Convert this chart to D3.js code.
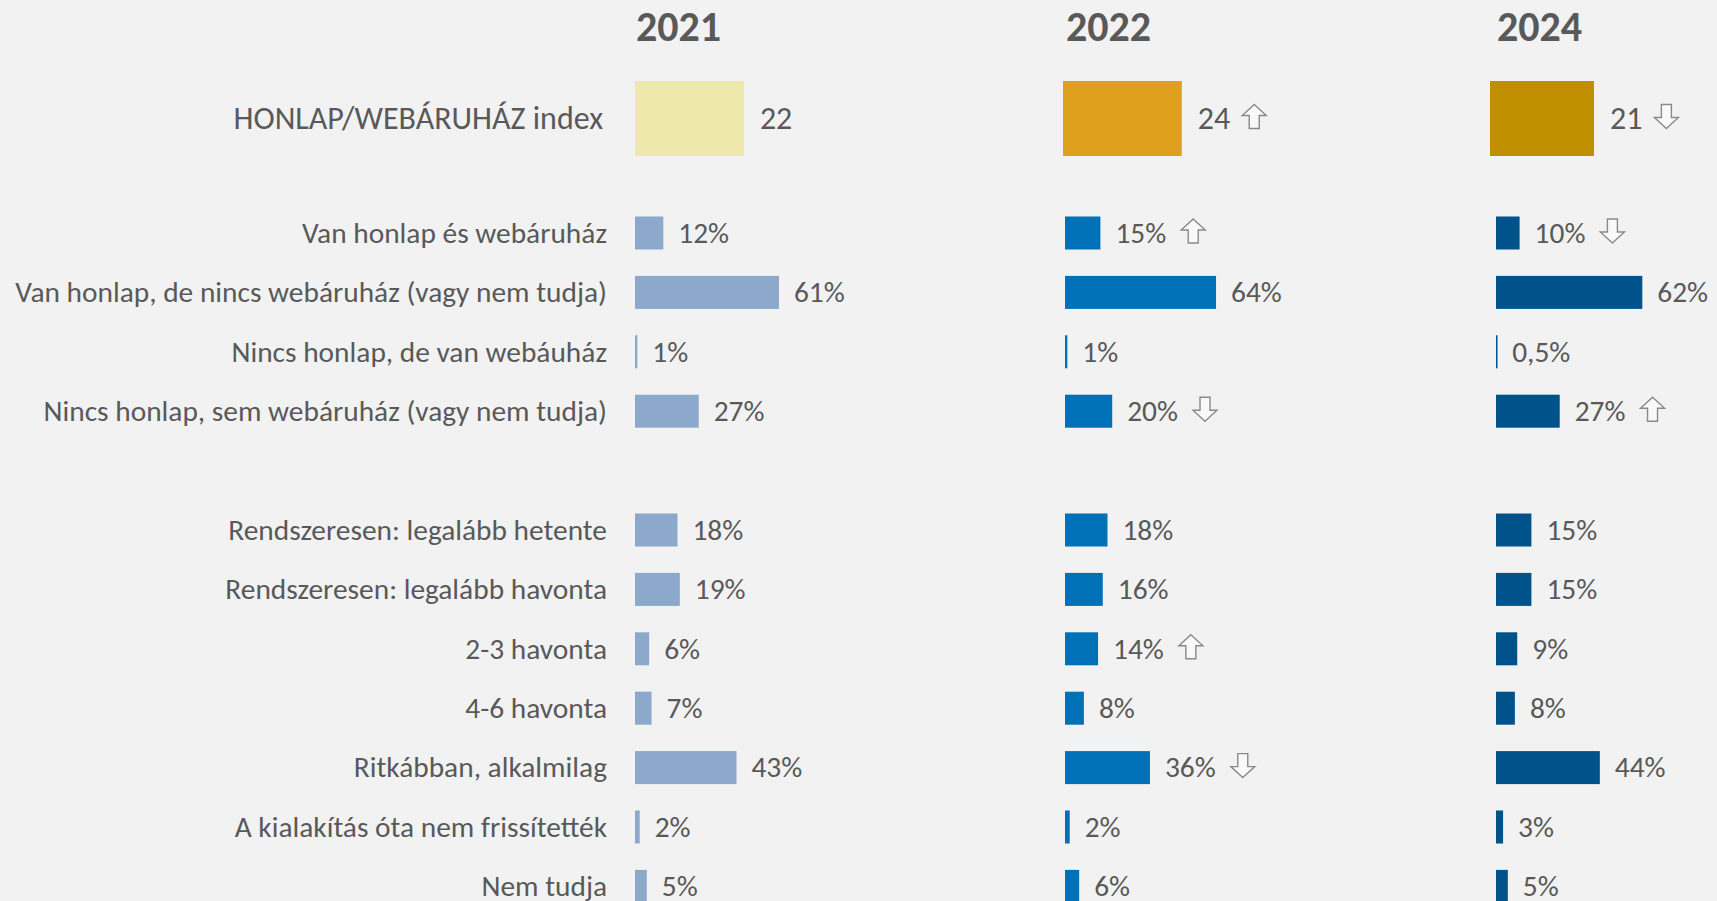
<!DOCTYPE html>
<html>
<head>
<meta charset="utf-8">
<script src="https://cdn.jsdelivr.net/npm/d3@7"></script>
<style>
  html, body { margin: 0; padding: 0; background: #f2f2f2; }
  svg { display: block; font-family: Calibri, Carlito, Lato, sans-serif; }
  text { fill: #595959; }
</style>
</head>
<body>
<svg id="vis" width="1717" height="901"></svg>
<script>
// years shown as columns
const years = ["2021", "2022", "2024"];

// index row
const indexLabel = "HONLAP/WEBÁRUHÁZ index";
const indexValues = [22, 24, 21];
const indexTrend = [null, "up", "down"];

// first block: honlap / webáruház
const siteRows = [
  "Van honlap és webáruház",
  "Van honlap, de nincs webáruház (vagy nem tudja)",
  "Nincs honlap, de van webáuház",
  "Nincs honlap, sem webáruház (vagy nem tudja)"
];
const site2021 = [12, 61, 1, 27];
const site2022 = [15, 64, 1, 20];
const site2024 = [10, 62, 0.5, 27];
const siteTrend2022 = ["up", null, null, "down"];
const siteTrend2024 = ["down", null, null, "up"];

// second block: update frequency
const freqRows = [
  "Rendszeresen: legalább hetente",
  "Rendszeresen: legalább havonta",
  "2-3 havonta",
  "4-6 havonta",
  "Ritkábban, alkalmilag",
  "A kialakítás óta nem frissítették",
  "Nem tudja"
];
const freq2021 = [18, 19, 6, 7, 43, 2, 5];
const freq2022 = [18, 16, 14, 8, 36, 2, 6];
const freq2024 = [15, 15, 9, 8, 44, 3, 5];
const freqTrend2022 = [null, null, "up", null, "down", null, null];
const freqTrend2024 = [null, null, null, null, null, null, null];

// colours
const indexColors = ["#eee8aa", "#dfa01e", "#bf8f00"];
const barColors = ["#8ca8cb", "#0071b7", "#00538a"];

const svg = d3.select("svg#vis");
const g = {
  labels: svg.append("g").attr("id", "labels"),
  cols: svg.append("g").attr("id", "cols")
};

// hungarian number format (decimal comma)
const hu = d3.formatLocale({decimal: ",", thousands: " ", grouping: [3], currency: ["", " Ft"]});
const pct = v => hu.format(Number.isInteger(v) ? "d" : ".1f")(v) + "%";

// column x positions
const colX = [635, 1065, 1496];
const colIndexX = [635, 1063, 1490];

const x = d3.scaleLinear().domain([0, 100]).range([0, 236]);
const xi = d3.scaleLinear().domain([0, 10]).range([0, 49.5]);

// rows (with an empty spacer between the two blocks)
const rowKeys = siteRows.concat(["_gap"], freqRows);
const y = d3.scalePoint().domain(rowKeys).range([233, 233 + 11 * 59.4]);
const barH = 33;
const indexY = 118.5, indexH = 75;

const labelRight = 607;
const fontSize = 29.4;
const indexFont = 32;

// row labels
g.labels.selectAll("text.row")
  .data(siteRows.concat(freqRows))
  .enter()
  .append("text")
  .attr("class", "row")
  .attr("x", labelRight)
  .attr("y", d => y(d))
  .attr("dy", "0.33em")
  .attr("text-anchor", "end")
  .style("font-size", fontSize + "px")
  .text(d => d);

g.labels.append("text")
  .attr("x", labelRight - 4)
  .attr("y", indexY)
  .attr("dy", "0.33em")
  .attr("text-anchor", "end")
  .style("font-size", indexFont + "px")
  .text(indexLabel);

const series = [
  {site: site2021, freq: freq2021, siteTrend: [null, null, null, null], freqTrend: [null, null, null, null, null, null, null]},
  {site: site2022, freq: freq2022, siteTrend: siteTrend2022, freqTrend: freqTrend2022},
  {site: site2024, freq: freq2024, siteTrend: siteTrend2024, freqTrend: freqTrend2024}
];

years.forEach(function(year, i) {
  const col = g.cols.append("g").attr("class", "col");

  col.append("text")
    .attr("x", colX[i] + 1)
    .attr("y", 41)
    .style("font-size", "42px")
    .style("font-weight", "bold")
    .text(year);

  // index bar
  col.append("rect")
    .attr("x", colIndexX[i])
    .attr("y", indexY - indexH / 2)
    .attr("width", xi(indexValues[i]))
    .attr("height", indexH)
    .attr("fill", indexColors[i]);

  const idxText = col.append("text")
    .attr("x", colIndexX[i] + xi(indexValues[i]) + 16)
    .attr("y", indexY)
    .attr("dy", "0.33em")
    .style("font-size", indexFont + "px")
    .text(indexValues[i]);
  if (indexTrend[i]) {
    drawArrow(col, +idxText.attr("x") + idxText.node().getComputedTextLength() + 12 + 12, indexY - 2, indexTrend[i]);
  }

  const rows = siteRows.map((r, j) => ({row: r, value: series[i].site[j], trend: series[i].siteTrend[j]}))
    .concat(freqRows.map((r, j) => ({row: r, value: series[i].freq[j], trend: series[i].freqTrend[j]})));

  col.selectAll("rect.bar")
    .data(rows)
    .enter()
    .append("rect")
    .attr("class", "bar")
    .attr("x", colX[i])
    .attr("y", d => y(d.row) - barH / 2)
    .attr("width", d => Math.max(1.5, x(d.value)))
    .attr("height", barH)
    .attr("fill", barColors[i]);

  col.selectAll("text.value")
    .data(rows)
    .enter()
    .append("text")
    .attr("class", "value")
    .attr("x", d => colX[i] + x(d.value) + 15)
    .attr("y", d => y(d.row))
    .attr("dy", "0.33em")
    .style("font-size", fontSize + "px")
    .text(d => pct(d.value))
    .each(function(d) {
      if (d.trend) {
        const end = +d3.select(this).attr("x") + this.getComputedTextLength();
        drawArrow(col, end + 15 + 12, y(d.row) - 2, d.trend);
      }
    });
});

// outlined block arrow, 24x24, centred on (cx, cy)
function drawArrow(parent, cx, cy, dir) {
  const pts = [[0, -12], [12, -1], [5, -1], [5, 12], [-5, 12], [-5, -1], [-12, -1]];
  const s = dir === "up" ? 1 : -1;
  parent.append("path")
    .attr("d", d3.line()(pts.map(p => [cx + p[0], cy + s * p[1]])) + "Z")
    .attr("fill", "#f9f9f9")
    .attr("stroke", "#8a8a8a")
    .attr("stroke-width", 1.4)
    .attr("stroke-linejoin", "miter");
}
</script>
</body>
</html>
